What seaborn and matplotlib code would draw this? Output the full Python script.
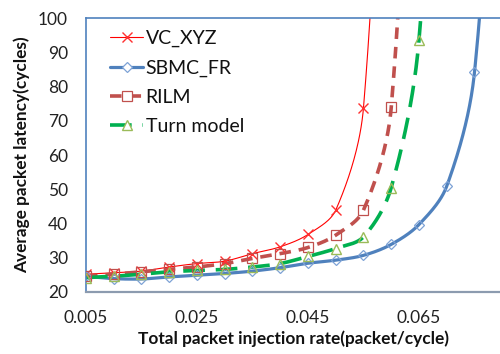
import numpy as np
import pandas as pd
import matplotlib
matplotlib.use("Agg")
import matplotlib.pyplot as plt
import seaborn as sns
from matplotlib.lines import Line2D

# ---- data ----
x_rate = [0.005, 0.010, 0.015, 0.020, 0.025, 0.030, 0.035, 0.040,
          0.045, 0.050, 0.055, 0.060, 0.065, 0.070, 0.075, 0.080]
vc_xyz = [25.2, 25.6, 26.1, 27.3, 28.3, 29.0, 31.2, 33.2, 36.8, 43.9, 73.8, 240.0]
sbmc_fr = [24.6, 23.9, 23.8, 24.4, 24.9, 25.4, 26.1, 27.1, 28.4, 29.3, 30.7,
           33.9, 39.7, 50.9, 84.1, 212.0]
rilm = [24.6, 25.2, 25.9, 26.6, 27.3, 28.3, 29.8, 31.2, 33.0, 36.6, 43.9, 73.9, 239.0]
turn_model = [24.2, 24.6, 25.2, 25.9, 26.3, 26.6, 27.3, 28.3, 30.4, 32.7, 36.1, 50.5, 93.6, 245.0]

series_names = ["VC_XYZ", "SBMC_FR", "RILM", "Turn model"]
series_vals = [vc_xyz, sbmc_fr, rilm, turn_model]

x_ticks = [0.005, 0.025, 0.045, 0.065]
x_tick_labels = ["0.005", "0.025", "0.045", "0.065"]
y_ticks = [20, 30, 40, 50, 60, 70, 80, 90, 100]

XLIM = (0.005, 0.0796)
YLIM = (20, 100)

# ---- styles ----
styles = {
    "VC_XYZ": dict(color="#FF0000", lw=0.8, dash=None, marker="x",
                   mfc="none", mec="#FF3030", ms=7, mew=1.0),
    "SBMC_FR": dict(color="#4F81BD", lw=2.3, dash=None, marker="D",
                    mfc="none", mec="#7DA2D6", ms=5, mew=0.9),
    "RILM": dict(color="#C0504D", lw=2.6, dash=(3.2, 2.2), marker="s",
                 mfc="none", mec="#C0504D", ms=6.5, mew=0.9),
    "Turn model": dict(color="#00B050", lw=2.6, dash=(6.0, 3.0), marker="^",
                       mfc="none", mec="#9BBB59", ms=7, mew=1.0),
}

PXW, PXH = 414.0, 273.4


def smooth_curve(xs, ys, n=60):
    """Excel-like smoothing: cubic Bezier through the points, computed in
    screen-like space, control arms scaled by neighbouring segment lengths."""
    xs = np.asarray(xs, float)
    ys = np.asarray(ys, float)
    sx = (xs - XLIM[0]) / (XLIM[1] - XLIM[0]) * PXW
    sy = (ys - YLIM[0]) / (YLIM[1] - YLIM[0]) * PXH
    P = np.column_stack([sx, sy])
    m = len(P)
    out = []
    for i in range(m - 1):
        p0 = P[i - 1] if i > 0 else P[i]
        p1 = P[i]
        p2 = P[i + 1]
        p3 = P[i + 2] if i + 2 < m else P[i + 1]
        d01 = np.linalg.norm(p1 - p0)
        d12 = np.linalg.norm(p2 - p1)
        d23 = np.linalg.norm(p3 - p2)
        f1 = d12 / (d01 + d12) / 3.0 if (d01 + d12) > 0 else 0.0
        f2 = d12 / (d12 + d23) / 3.0 if (d12 + d23) > 0 else 0.0
        c1 = p1 + (p2 - p0) * f1
        c2 = p2 - (p3 - p1) * f2
        t = np.linspace(0, 1, n)[:, None]
        seg = ((1 - t) ** 3) * p1 + 3 * ((1 - t) ** 2) * t * c1 + \
            3 * (1 - t) * t ** 2 * c2 + t ** 3 * p2
        if i > 0:
            seg = seg[1:]
        out.append(seg)
    out = np.vstack(out)
    ox = out[:, 0] / PXW * (XLIM[1] - XLIM[0]) + XLIM[0]
    oy = out[:, 1] / PXH * (YLIM[1] - YLIM[0]) + YLIM[0]
    return ox, oy


sns.set_theme(style="white")
plt.rcParams["font.family"] = ["Lato", "DejaVu Sans"]

fig = plt.figure(figsize=(5.0, 3.54), dpi=100)
ax = fig.add_axes([86 / 500, (354 - 292) / 354, 414 / 500, (292 - 18) / 354])

handles = []
for name, vals in zip(series_names, series_vals):
    st = styles[name]
    xs = x_rate[:len(vals)]
    sx, sy = smooth_curve(xs, vals)
    line_df = pd.DataFrame({"x": sx, "y": sy})
    sns.lineplot(data=line_df, x="x", y="y", ax=ax, estimator=None, sort=False,
                 color=st["color"], linewidth=st["lw"])
    ln = ax.lines[-1]
    if st["dash"] is not None:
        ln.set_dashes(st["dash"])
    ln.set_dash_capstyle("butt")
    pts_df = pd.DataFrame({"x": xs, "y": vals})
    ax.plot(pts_df["x"], pts_df["y"], linestyle="none", marker=st["marker"],
            markerfacecolor=st["mfc"], markeredgecolor=st["mec"],
            markersize=st["ms"], markeredgewidth=st["mew"], zorder=4)
    h = Line2D([0], [0], color=st["color"], lw=st["lw"], marker=st["marker"],
               markerfacecolor="white", markeredgecolor=st["mec"],
               markersize=st["ms"], markeredgewidth=st["mew"])
    if st["dash"] is not None:
        h.set_linestyle((0, st["dash"]))
    handles.append(h)

ax.set_xlim(*XLIM)
ax.set_ylim(*YLIM)
ax.set_xticks(x_ticks)
ax.set_xticklabels(x_tick_labels)
ax.set_yticks(y_ticks)
ax.tick_params(axis="both", length=0, labelsize=12.5, colors="#222222")
ax.tick_params(axis="x", pad=13)
ax.tick_params(axis="y", pad=13)

ax.set_xlabel("Total packet injection rate(packet/cycle)", fontsize=12.4,
              fontweight="bold", color="#111111", labelpad=3)
ax.set_ylabel("Average packet latency(cycles)", fontsize=12.4,
              fontweight="bold", color="#111111", labelpad=6)

for side in ["left", "top"]:
    ax.spines[side].set_color("#4F81BD")
    ax.spines[side].set_linewidth(1.2)
ax.spines["bottom"].set_color("#8C9BAF")
ax.spines["bottom"].set_linewidth(1.6)
ax.spines["right"].set_visible(False)

leg = ax.legend(handles, series_names, loc="upper left",
                bbox_to_anchor=(0.04, 0.985), frameon=False, fontsize=14,
                handlelength=1.7, handletextpad=0.12, labelspacing=0.63,
                borderaxespad=0.0)
for t in leg.get_texts():
    t.set_color("#111111")

fig.savefig("out.png", dpi=100)
